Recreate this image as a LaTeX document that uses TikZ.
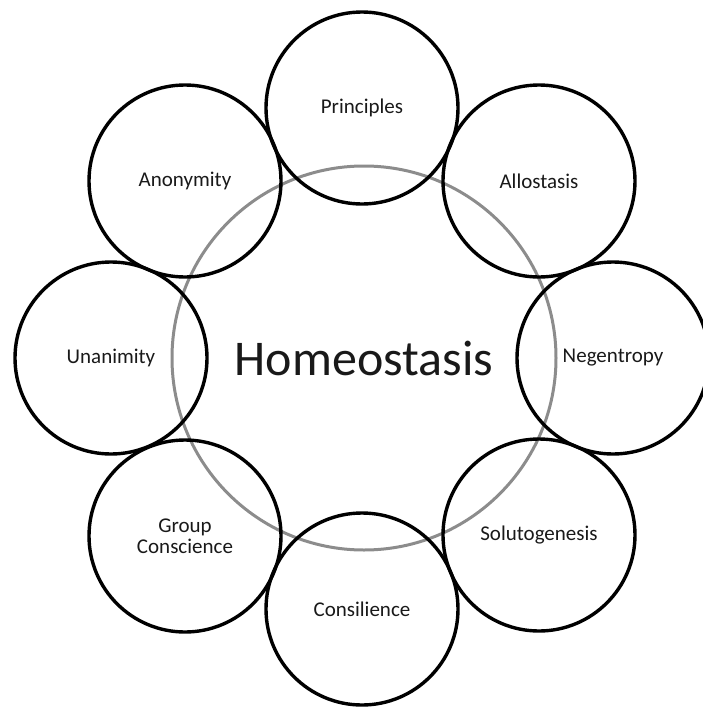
\documentclass[tikz,border=0pt]{standalone}
\usepackage{fontspec}
\setmainfont{Carlito}
\usepackage{tikz}
\usetikzlibrary{positioning}

\tikzset{
    petal/.style={draw=black, line width=3.4pt, circle, minimum size=192pt, inner sep=0pt, align=center, text=black!90, font=\fontsize{21}{25}\selectfont},
    core/.style={draw=black!45, line width=3pt, circle, minimum size=384pt, inner sep=0pt, text=black!90, font=\fontsize{50}{60}\selectfont}
}

\begin{document}
\begin{tikzpicture}[x=1pt, y=-1pt]
        \useasboundingbox (0,0) rectangle (702,707);
        \node[core] (homeo) at (364,358) {Homeostasis};
        
        \node[petal] (princ) at (362,108) {Principles};
        \node[petal] (allo) at (539,181) {Allostasis};
        \node[petal] (negen) at (613,358) {Negentropy};
        \node[petal] (soluto) at (539,535) {Solutogenesis};
        \node[petal] (consil) at (362,609) {Consilience};
        \node[petal] (group) at (185,536) {Group\\[-4pt]Conscience};
        \node[petal] (unan) at (111,358) {Unanimity};
        \node[petal] (anon) at (185,181) {Anonymity};
    \end{tikzpicture}
\end{document}
